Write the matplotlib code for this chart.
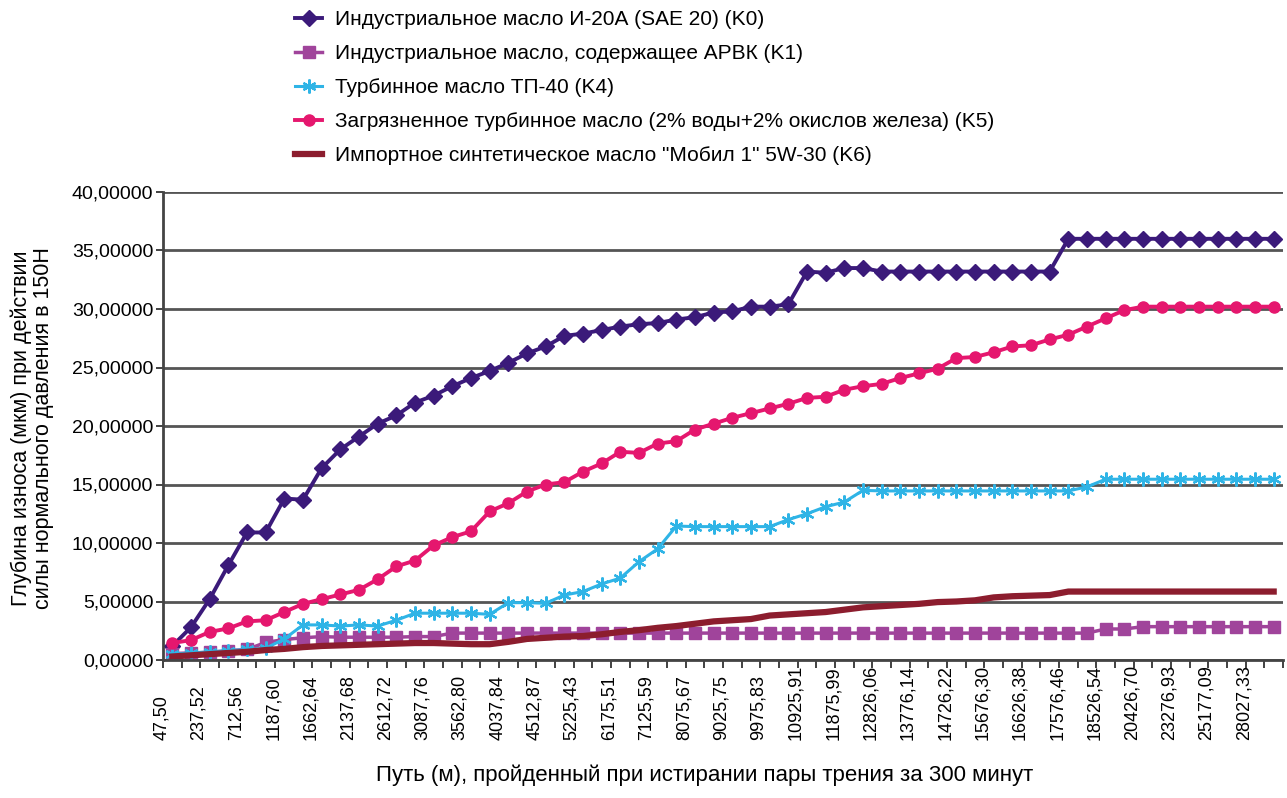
import numpy as np
import matplotlib.pyplot as plt

# путь трения, подписи категорий (каждая вторая точка)
path_labels = ["47,50", "237,52", "712,56", "1187,60", "1662,64", "2137,68",
               "2612,72", "3087,76", "3562,80", "4037,84", "4512,87", "5225,43",
               "6175,51", "7125,59", "8075,67", "9025,75", "9975,83", "10925,91",
               "11875,99", "12826,06", "13776,14", "14726,22", "15676,30", "16626,38",
               "17576,46", "18526,54", "20426,70", "23276,93", "25177,09", "28027,33"]

k0 = [1.2, 2.8, 5.2, 8.1, 10.9, 10.9, 13.8, 13.7, 16.4, 18.0,
      19.1, 20.2, 20.9, 22.0, 22.6, 23.4, 24.1, 24.7, 25.4, 26.2,
      26.8, 27.7, 27.9, 28.2, 28.5, 28.7, 28.8, 29.1, 29.3, 29.7,
      29.8, 30.2, 30.2, 30.4, 33.2, 33.1, 33.5, 33.5, 33.2, 33.2,
      33.2, 33.2, 33.2, 33.2, 33.2, 33.2, 33.2, 33.2, 36.0, 36.0,
      36.0, 36.0, 36.0, 36.0, 36.0, 36.0, 36.0, 36.0, 36.0, 36.0]

k1 = [0.55, 0.6, 0.65, 0.8, 0.9, 1.5, 1.75, 1.9, 2.0, 1.95,
      1.95, 1.95, 1.95, 2.0, 2.0, 2.3, 2.3, 2.3, 2.3, 2.3,
      2.3, 2.3, 2.3, 2.3, 2.3, 2.3, 2.3, 2.3, 2.3, 2.3,
      2.3, 2.3, 2.3, 2.3, 2.3, 2.3, 2.3, 2.3, 2.3, 2.3,
      2.3, 2.3, 2.3, 2.3, 2.3, 2.3, 2.3, 2.3, 2.3, 2.3,
      2.65, 2.65, 2.85, 2.85, 2.85, 2.85, 2.85, 2.85, 2.85, 2.85]

k4 = [0.5, 0.6, 0.7, 0.8, 0.9, 1.0, 1.8, 3.0, 3.0, 2.9,
      3.0, 2.9, 3.4, 4.0, 4.0, 4.0, 4.0, 3.9, 4.9, 4.9,
      4.85, 5.55, 5.85, 6.5, 7.0, 8.4, 9.5, 11.45, 11.4, 11.4,
      11.4, 11.4, 11.4, 12.0, 12.5, 13.1, 13.5, 14.5, 14.45, 14.45,
      14.45, 14.45, 14.45, 14.45, 14.45, 14.45, 14.45, 14.45, 14.45, 14.8,
      15.45, 15.45, 15.45, 15.45, 15.45, 15.45, 15.45, 15.45, 15.45, 15.45]

k5 = [1.45, 1.7, 2.4, 2.7, 3.3, 3.4, 4.1, 4.8, 5.2, 5.6,
      6.0, 6.9, 8.0, 8.5, 9.8, 10.5, 11.0, 12.7, 13.4, 14.4,
      15.0, 15.2, 16.1, 16.8, 17.8, 17.7, 18.5, 18.7, 19.7, 20.2,
      20.7, 21.1, 21.5, 21.9, 22.4, 22.5, 23.1, 23.4, 23.6, 24.1,
      24.5, 24.9, 25.8, 25.9, 26.3, 26.8, 26.9, 27.4, 27.8, 28.5,
      29.2, 29.9, 30.2, 30.2, 30.2, 30.2, 30.2, 30.2, 30.2, 30.2]

k6 = [0.3, 0.4, 0.5, 0.6, 0.7, 0.85, 0.95, 1.1, 1.2, 1.25,
      1.3, 1.35, 1.4, 1.45, 1.45, 1.4, 1.35, 1.35, 1.55, 1.8,
      1.9, 2.0, 2.05, 2.2, 2.4, 2.55, 2.75, 2.9, 3.1, 3.3,
      3.4, 3.5, 3.8, 3.9, 4.0, 4.1, 4.3, 4.5, 4.6, 4.7,
      4.8, 4.95, 5.0, 5.1, 5.35, 5.45, 5.5, 5.55, 5.85, 5.85,
      5.85, 5.85, 5.85, 5.85, 5.85, 5.85, 5.85, 5.85, 5.85, 5.85]

names = ["Индустриальное масло И-20А (SAE 20) (K0)",
         "Индустриальное масло, содержащее АРВК (K1)",
         "Турбинное масло ТП-40 (K4)",
         "Загрязненное турбинное масло (2% воды+2% окислов железа) (K5)",
         "Импортное синтетическое масло \"Мобил 1\" 5W-30 (K6)"]

plt.rcParams['font.family'] = ["Liberation Sans", "DejaVu Sans"]

x = np.arange(len(k0))

fig = plt.figure(figsize=(12.87, 7.98), dpi=100)
ax = fig.add_axes([163/1287, 1 - 660/798, 1120/1287, 468/798])

l0, = ax.plot(x, k0, color="#3b1a7a", lw=2.8, marker="D", ms=8)
l1, = ax.plot(x, k1, color="#a0449b", lw=2.5, marker="s", ms=8.5)
l4, = ax.plot(x, k4, color="#2fb4e6", lw=2.2, marker=(6, 2, 0), ms=10, mew=1.6)
l5, = ax.plot(x, k5, color="#e5176e", lw=2.8, marker="o", ms=8)
l6, = ax.plot(x, k6, color="#8c1d2e", lw=4.5)

ax.set_xlim(-0.5, len(k0) - 0.5)
ax.set_ylim(0, 40)
ax.set_yticks(np.arange(0, 41, 5))
ax.set_yticklabels([f"{v:.5f}".replace(".", ",") for v in np.arange(0, 41, 5)],
                   fontsize=14)
ax.yaxis.grid(True, color="#555555", lw=2)
ax.set_axisbelow(True)

ax.set_xticks([])
ax.set_xticks(np.arange(-0.5, len(k0), 1), minor=True)
ax.tick_params(axis="x", which="minor", length=6, width=1.3, color="#333333")
ax.tick_params(axis="y", length=5, width=1.3, color="#333333", pad=2)

for s in ["top", "right"]:
    ax.spines[s].set_visible(False)
for s in ["left", "bottom"]:
    ax.spines[s].set_color("#444444")
    ax.spines[s].set_linewidth(2)

# подписи категорий: каждая вторая точка
for k, lab in enumerate(path_labels):
    ax.text(2 * k - 0.6, -0.17, lab, transform=ax.get_xaxis_transform(),
            rotation=90, ha="center", va="bottom", fontsize=13)

fig.text(705/1287, 1 - 775/798,
         "Путь (м), пройденный при истирании пары трения за 300 минут",
         ha="center", va="center", fontsize=16)
fig.text(32/1287, 1 - 428/798,
         "Глубина износа (мкм) при действии\nсилы нормального давления в 150Н",
         rotation=90, ha="center", va="center", fontsize=15.5,
         linespacing=1.05)

fig.legend([l0, l1, l4, l5, l6], names, loc="upper left",
           bbox_to_anchor=(287/1287, 1 - 2/798), frameon=False,
           prop={"size": 15}, handlelength=1.3,
           handletextpad=0.6, labelspacing=0.72, borderaxespad=0)

fig.savefig("out.png", dpi=100)
